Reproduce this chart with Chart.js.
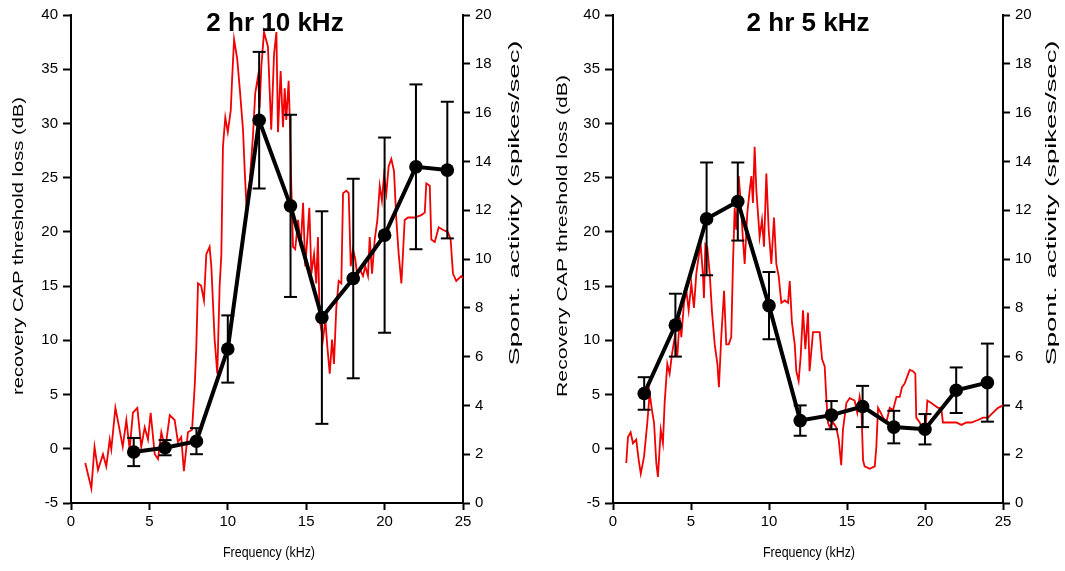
<!DOCTYPE html>
<html><head><meta charset="utf-8">
<script src="https://cdn.jsdelivr.net/npm/chart.js@4.4.1/dist/chart.umd.min.js"></script>
<style>
html,body{margin:0;padding:0;background:#fff;}
#wrap{position:relative;width:1065px;height:571px;overflow:hidden;}
.box{position:absolute;top:0;height:571px;}
</style></head><body>
<div id="wrap">
<div class="box" style="left:0;width:532px"><canvas id="c1"></canvas></div>
<div class="box" style="left:532px;width:533px"><canvas id="c2"></canvas></div>
</div>
<script>
// ---------- data ----------
const xTicks = [0, 5, 10, 15, 20, 25];
const capTicks = [-5, 0, 5, 10, 15, 20, 25, 30, 35, 40];
const spontTicks = [0, 2, 4, 6, 8, 10, 12, 14, 16, 18, 20];

// 2 hr 10 kHz
const freq10 = [4, 6, 8, 10, 12, 14, 16, 18, 20, 22, 24];
const cap10 = [-0.3, 0.1, 0.7, 9.2, 30.3, 22.4, 12.1, 15.7, 19.7, 26.0, 25.7];
const err10 = [1.3, 0.7, 1.2, 3.1, 6.3, 8.4, 9.8, 9.2, 9.0, 7.6, 6.3];
const spont10 = [
[0.91,1.64],[1.3,0.6],[1.5,2.3],[1.72,1.35],[2.04,2.0],[2.25,1.5],[2.47,2.6],[2.57,2.2],[2.83,3.9],[3.1,3.0],
[3.3,2.3],[3.53,3.4],[3.74,2.2],[3.95,3.7],[4.23,3.9],[4.48,2.3],[4.7,3.1],[4.91,2.6],[5.08,3.7],[5.34,2.0],
[5.55,1.8],[5.76,2.9],[6.01,2.2],[6.3,3.6],[6.61,3.4],[6.82,2.5],[7.03,2.7],[7.2,1.3],[7.46,2.9],[7.72,3.0],
[7.89,4.8],[7.99,6.35],[8.1,9.0],[8.3,8.9],[8.48,8.3],[8.63,10.2],[8.84,10.5],[8.95,9.7],[9.16,6.7],[9.33,5.3],
[9.48,8.9],[9.59,10.2],[9.69,14.6],[9.84,15.8],[10.0,15.2],[10.19,16.1],[10.27,17.3],[10.4,19.0],[10.6,18.2],[10.76,17.0],
[10.97,15.3],[11.08,13.6],[11.18,12.3],[11.4,13.2],[11.6,15.0],[11.75,16.8],[11.93,17.5],[12.03,16.2],[12.14,17.9],[12.31,19.3],
[12.56,18.7],[12.77,15.3],[12.95,18.4],[13.1,19.3],[13.2,15.2],[13.37,17.7],[13.52,15.4],[13.63,17.0],[13.73,15.7],[13.88,17.3],
[13.97,15.4],[14.05,13.0],[14.16,10.5],[14.3,10.4],[14.48,11.6],[14.65,10.5],[14.8,12.3],[14.94,9.7],[15.1,11.1],[15.2,12.1],
[15.33,9.4],[15.5,10.2],[15.64,9.0],[15.75,10.9],[15.86,7.5],[16.07,6.7],[16.22,7.5],[16.35,6.4],[16.5,5.3],[16.65,6.7],
[16.77,5.7],[16.92,8.0],[17.07,9.1],[17.24,9.0],[17.35,12.7],[17.56,12.8],[17.71,12.7],[17.84,9.7],[17.98,10.4],[18.13,10.0],
[18.26,9.3],[18.41,9.6],[18.62,9.3],[18.77,9.7],[18.94,9.3],[19.05,10.9],[19.2,9.4],[19.37,10.8],[19.54,11.6],[19.69,13.0],
[19.83,12.4],[19.96,13.4],[20.11,12.7],[20.26,13.8],[20.43,14.1],[20.6,13.6],[20.75,11.6],[20.9,10.2],[21.07,9.0],[21.17,10.2],
[21.28,11.6],[21.5,11.7],[21.92,11.7],[22.34,11.8],[22.56,11.9],[22.66,13.1],[22.88,13.0],[22.98,10.8],[23.2,10.7],[23.45,11.3],
[23.72,11.2],[24.04,11.1],[24.21,10.8],[24.36,9.4],[24.57,9.1],[24.89,9.3],[25.0,9.2]
];

// 2 hr 5 kHz
const freq5 = [2, 4, 6, 8, 10, 12, 14, 16, 18, 20, 22, 24];
const cap5 = [5.1, 11.4, 21.2, 22.8, 13.2, 2.6, 3.1, 3.9, 2.0, 1.8, 5.4, 6.1];
const err5 = [1.5, 2.9, 5.2, 3.6, 3.1, 1.4, 1.3, 1.9, 1.5, 1.4, 2.1, 3.6];
const spont5 = [
[0.85,1.64],[0.96,2.7],[1.13,2.9],[1.28,2.45],[1.49,2.6],[1.65,1.75],[1.78,1.2],[1.99,1.9],[2.2,3.3],[2.35,4.5],
[2.5,3.8],[2.63,3.3],[2.78,1.6],[2.88,1.07],[3.06,3.0],[3.2,2.45],[3.31,4.1],[3.48,5.7],[3.63,5.3],[3.78,6.1],
[3.96,6.8],[4.12,6.0],[4.28,7.6],[4.38,6.8],[4.55,8.2],[4.7,8.7],[4.85,7.9],[5.02,9.0],[5.19,8.0],[5.34,9.4],
[5.49,10.1],[5.62,10.6],[5.77,9.3],[5.83,8.4],[5.92,10.6],[6.04,10.5],[6.2,9.4],[6.35,7.8],[6.52,6.5],[6.69,5.7],
[6.79,4.75],[6.94,6.8],[7.12,8.7],[7.26,6.5],[7.42,6.5],[7.58,6.8],[7.69,9.8],[7.8,12.1],[7.9,11.2],[8.06,13.4],
[8.19,12.3],[8.33,10.8],[8.44,9.8],[8.61,11.9],[8.76,12.8],[8.87,13.4],[8.97,12.3],[9.08,14.6],[9.19,12.8],[9.29,11.9],
[9.4,10.9],[9.55,11.6],[9.68,10.5],[9.83,13.5],[9.98,11.2],[10.15,9.8],[10.32,11.7],[10.47,9.8],[10.62,9.3],[10.79,8.2],
[11.01,8.3],[11.22,8.2],[11.33,9.1],[11.47,7.4],[11.65,6.5],[11.75,5.4],[11.9,5.0],[12.03,6.0],[12.18,7.9],[12.33,6.3],
[12.5,7.8],[12.6,5.4],[12.82,7.0],[13.25,7.0],[13.4,5.9],[13.57,5.6],[13.67,4.35],[13.78,3.3],[13.89,3.1],[14.1,3.3],
[14.31,3.1],[14.47,2.6],[14.63,1.55],[14.74,3.0],[14.96,4.1],[15.17,4.3],[15.49,4.2],[15.66,3.7],[15.81,4.35],[15.92,3.9],
[16.03,1.75],[16.13,1.5],[16.46,1.4],[16.78,1.5],[16.88,2.3],[16.99,3.9],[17.16,3.7],[17.31,3.5],[17.52,3.3],[17.74,3.9],
[17.95,3.8],[18.17,4.35],[18.38,4.35],[18.53,4.75],[18.7,4.9],[18.87,5.2],[19.02,5.45],[19.23,5.4],[19.38,5.3],[19.44,3.5],
[19.66,3.3],[19.87,3.0],[20.02,2.9],[20.15,4.2],[20.4,4.1],[20.83,3.9],[21.04,3.9],[21.15,3.3],[21.37,3.3],[21.69,3.3],
[22.01,3.3],[22.33,3.2],[22.65,3.3],[22.97,3.3],[23.4,3.4],[23.72,3.5],[24.04,3.5],[24.36,3.7],[24.68,3.9],[25.0,4.0]
];

// ---------- helpers ----------
const FONT = "'Liberation Sans', Arial, Helvetica, sans-serif";

function meanPoints(f, m) { return f.map((x, i) => ({x: x, y: m[i]})); }
function errorPoints(f, m, e) {
  const out = [];
  f.forEach((x, i) => {
    out.push({x: x, y: m[i] - e[i]});
    out.push({x: x, y: m[i] + e[i]});
    out.push({x: x, y: null});
  });
  return out;
}
function pairPoints(p) { return p.map(d => ({x: d[0], y: d[1]})); }

function drawLabel(ctx, t) {
  ctx.save();
  ctx.font = t.font;
  ctx.fillStyle = '#000';
  ctx.textAlign = 'center';
  ctx.textBaseline = 'middle';
  ctx.translate(t.x, t.y);
  ctx.rotate(t.rot || 0);
  const w = ctx.measureText(t.text).width;
  if (t.len) ctx.scale(t.len / w, 1);
  ctx.fillText(t.text, 0, 0);
  ctx.restore();
}

const textPlugin = {
  id: 'extraText',
  afterDraw(chart, args, o) {
    (o.labels || []).forEach(t => drawLabel(chart.ctx, t));
  }
};

function makeChart(id, cfg) {
  const tickFont = {family: FONT, size: 15};
  const gridOpts = (len) => ({drawOnChartArea: false, drawTicks: true, tickLength: len, tickWidth: 2, color: '#000'});
  const border = {display: true, color: '#000', width: 2};
  const f15 = '15px ' + FONT;
  new Chart(document.getElementById(id), {
    type: 'scatter',
    data: {
      datasets: [
        {label: 'Spont. activity', data: pairPoints(cfg.spont), yAxisID: 'y2', showLine: true,
         borderColor: 'rgb(240,0,0)', borderWidth: 1.8, pointRadius: 0, tension: 0, order: 3},
        {label: 'SD', data: errorPoints(cfg.freq, cfg.cap, cfg.err), yAxisID: 'y', showLine: true, spanGaps: false,
         borderColor: '#000', borderWidth: 2, pointStyle: 'line', pointRadius: 6.5, pointBorderWidth: 2,
         pointBorderColor: '#000', pointHoverRadius: 6.5, order: 2},
        {label: 'CAP threshold loss', data: meanPoints(cfg.freq, cfg.cap), yAxisID: 'y', showLine: true,
         borderColor: '#000', borderWidth: 4, pointRadius: 6.8, pointBackgroundColor: '#000',
         pointBorderWidth: 0, tension: 0, order: 1}
      ]
    },
    options: {
      responsive: true, maintainAspectRatio: false, animation: false,
      layout: {padding: {top: 15, left: 0, right: 0, bottom: 0}},
      plugins: {legend: {display: false}, tooltip: {enabled: false},
        extraText: {labels: [
          {text: cfg.title, font: 'bold 26px ' + FONT, x: cfg.titleX, y: 24},
          {text: cfg.yTitle, font: f15, x: cfg.yTitleX, y: cfg.yTitleY, rot: -Math.PI / 2, len: cfg.yTitleLen},
          {text: 'Spont. activity (spikes/sec)', font: f15, x: cfg.sideX, y: 203, rot: -Math.PI / 2, len: 325},
          {text: 'Frequency (kHz)', font: f15, x: cfg.xTitleX, y: 553, len: 92}
        ]}},
      scales: {
        x: {type: 'linear', position: 'bottom', min: xTicks[0], max: xTicks[xTicks.length - 1],
            afterBuildTicks: s => { s.ticks = xTicks.map(v => ({value: v})); },
            ticks: {font: tickFont, color: '#000', padding: 3},
            grid: gridOpts(7), border: border,
            afterFit: s => { s.height = 68; }},
        y: {type: 'linear', position: 'left', min: capTicks[0], max: capTicks[capTicks.length - 1],
            afterBuildTicks: s => { s.ticks = capTicks.map(v => ({value: v})); },
            ticks: {font: tickFont, color: '#000', padding: 5},
            grid: gridOpts(8), border: border,
            afterFit: s => { s.width = cfg.leftW; }},
        y2: {type: 'linear', position: 'right', min: spontTicks[0], max: spontTicks[spontTicks.length - 1],
            afterBuildTicks: s => { s.ticks = spontTicks.map(v => ({value: v})); },
            ticks: {font: tickFont, color: '#000', padding: 5},
            grid: gridOpts(7), border: border,
            afterFit: s => { s.width = cfg.rightW; }}
      }
    },
    plugins: [textPlugin]
  });
}

makeChart('c1', {title: '2 hr 10 kHz', titleX: 275, freq: freq10, cap: cap10, err: err10, spont: spont10,
  yTitle: 'recovery CAP threshold loss (dB)', yTitleX: 19, yTitleY: 246, yTitleLen: 298,
  leftW: 71, rightW: 69, sideX: 515, xTitleX: 269});
makeChart('c2', {title: '2 hr 5 kHz', titleX: 276, freq: freq5, cap: cap5, err: err5, spont: spont5,
  yTitle: 'Recovery CAP threshold loss (dB)', yTitleX: 31, yTitleY: 236, yTitleLen: 322,
  leftW: 81, rightW: 62, sideX: 520, xTitleX: 277});
</script>
</body></html>
